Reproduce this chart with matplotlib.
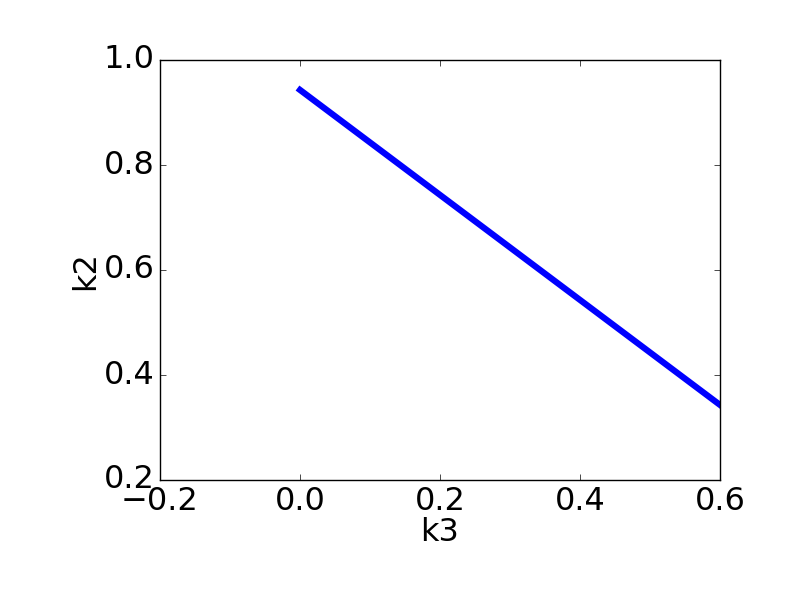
import matplotlib
matplotlib.use('Agg')
import matplotlib.pyplot as plt

# line data
k3 = [0.0, 0.6]
k2 = [0.943, 0.343]

plt.style.use('classic')
fig = plt.figure(figsize=(8, 6), dpi=100, facecolor='white')
ax = fig.add_axes([0.2, 0.2, 0.7, 0.7])

ax.plot(k3, k2, color='blue', linewidth=4.5)

ax.set_xlim(-0.2, 0.6)
ax.set_ylim(0.2, 1.0)
ax.set_xticks([-0.2, 0.0, 0.2, 0.4, 0.6])
ax.set_yticks([0.2, 0.4, 0.6, 0.8, 1.0])
ax.tick_params(labelsize=23, direction='in', top=True, right=True, length=4)
ax.set_xlabel('k3', fontsize=23, labelpad=0)
ax.set_ylabel('k2', fontsize=23, labelpad=1.5)

fig.savefig('out.png', dpi=100, facecolor='white')
